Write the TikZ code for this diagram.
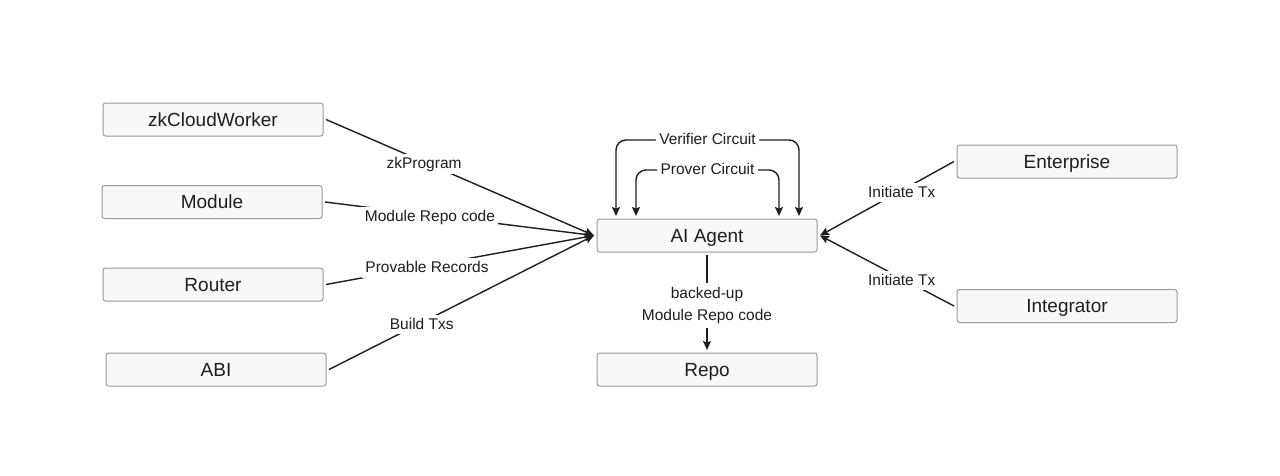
\documentclass[tikz,border=0pt]{standalone}
\usepackage{fontspec}
\setmainfont{Liberation Sans}
\usetikzlibrary{arrows.meta}
\definecolor{boxfill}{HTML}{F8F8F8}
\definecolor{boxline}{HTML}{9A9A9A}
\definecolor{ink}{HTML}{1E1E1E}
\begin{document}
\begin{tikzpicture}[x=1pt,y=-1pt,
  box/.style={draw=boxline, fill=boxfill, line width=1pt, rounded corners=2.5pt,
    minimum width=220pt, minimum height=33pt, inner sep=0pt, outer sep=3pt,
    text=ink, font=\fontsize{19}{22}\selectfont, text height=13.6pt, text depth=0pt},
  lab/.style={fill=white, text=ink, inner sep=3.5pt, font=\fontsize{15.5}{22}\selectfont,
    text height=11.1pt, text depth=1.5pt, yshift=-2pt},
  lab2/.style={fill=white, text=ink, inner sep=4pt, font=\fontsize{15.5}{22}\selectfont, align=center, yshift=-3pt},
  conn/.style={draw=ink, line width=1.4pt, -{Stealth[length=9pt,width=8pt,inset=1.5pt]}},
  loop/.style={draw=ink, line width=1.4pt, rounded corners=10pt,
    {Stealth[length=9pt,width=8pt,inset=1.5pt]}-{Stealth[length=9pt,width=8pt,inset=1.5pt]}}
]
\useasboundingbox (0,0) rectangle (1280,475);
\fill[white] (0,0) rectangle (1280,475);

\node[box] (zk) at (213,119.5) {zkCloudWorker};
\node[box] (mod) at (212,202) {Module};
\node[box] (rou) at (213,284.5) {Router};
\node[box] (abi) at (216,369.5) {ABI};
\node[box] (agent) at (707,235.5) {AI Agent};
\node[box] (repo) at (707,369.5) {Repo};
\node[box] (ent) at (1067,161.5) {Enterprise};
\node[box] (int) at (1067,306) {Integrator};

\draw[conn] (zk.east) -- node[lab, pos=0.366] {zkProgram} (agent.west);
\draw[conn] (mod.east) -- node[lab, pos=0.39] {Module Repo code} (agent.west);
\draw[conn] (rou.east) -- node[lab, pos=0.377] {Provable Records} (agent.west);
\draw[conn] (abi.east) -- node[lab, pos=0.35] {Build Txs} (agent.west);

\draw[conn] (ent.west) -- node[lab, pos=0.39] {Initiate Tx} (agent.east);
\draw[conn] (int.west) -- node[lab, pos=0.39] {Initiate Tx} (agent.east);

\draw[conn] (agent.south) -- node[lab2] {backed-up\\Module Repo code} (repo.north);

\draw[loop] ([xshift=-91pt]agent.north) -- ++(0,-76) -| node[lab, pos=0.25, yshift=2pt] {Verifier Circuit} ([xshift=92pt]agent.north);
\draw[loop] ([xshift=-71pt]agent.north) -- ++(0,-46) -| node[lab, pos=0.25, yshift=2pt] {Prover Circuit} ([xshift=72pt]agent.north);
\end{tikzpicture}
\end{document}
